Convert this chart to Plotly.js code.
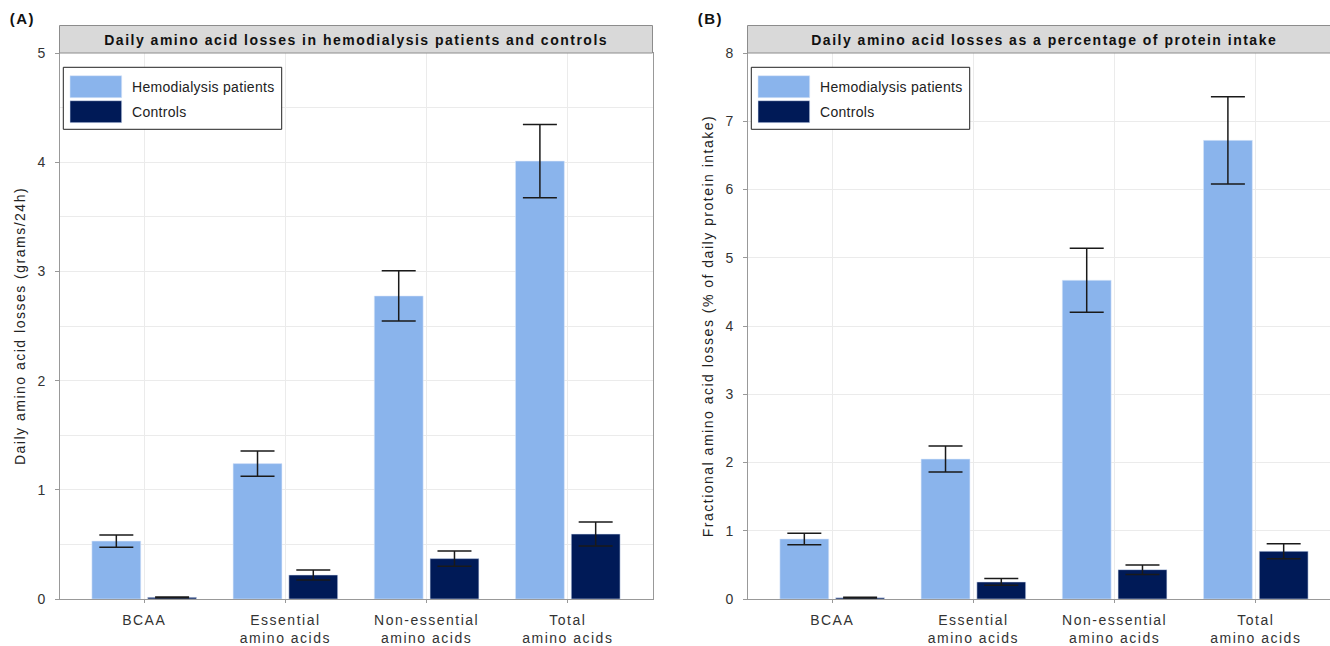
<!DOCTYPE html>
<html>
<head>
<meta charset="utf-8">
<script src="https://cdn.plot.ly/plotly-3.0.1.min.js"></script>
<style>
html,body{margin:0;padding:0;background:#fff;}
#chart{width:1330px;height:646px;}
#chart text{letter-spacing:1.5px;}
</style>
</head>
<body>
<div id="chart"></div>
<script>
// ---- data ----
const categories = ["BCAA", "Essential<br>amino acids", "Non-essential<br>amino acids", "Total<br>amino acids"];
const seriesNames = ["Hemodialysis patients", "Controls"];
const hdGrams = [0.53, 1.24, 2.775, 4.01];
const hdGramsErr = [0.055, 0.115, 0.23, 0.335];
const ctlGrams = [0.015, 0.22, 0.37, 0.595];
const ctlGramsErr = [0.003, 0.045, 0.07, 0.11];
const hdPct = [0.88, 2.05, 4.67, 6.72];
const hdPctErr = [0.085, 0.19, 0.47, 0.64];
const ctlPct = [0.02, 0.25, 0.43, 0.70];
const ctlPctErr = [0.004, 0.05, 0.07, 0.11];
const panelTitles = ["Daily amino acid losses in hemodialysis patients and controls", "Daily amino acid losses as a percentage of protein intake"];
const panelLabels = ["(A)", "(B)"];
const yTitles = ["Daily amino acid losses (grams/24h)", "Fractional amino acid losses (% of daily protein intake)"];

// ---- style ----
const colors = ["#8AB4EC", "#001A57"];
const FONT = "Liberation Sans, Arial, sans-serif";
const W = 1330, H = 646;
const ML = 59, MR = 0, MT = 53, MB = 47;
const PW = W - ML - MR, PH = H - MT - MB;
const px = x => (x - ML) / PW;
const py = y => (H - MB - y) / PH;
const panelA = [59.5, 652.5];
const panelB = [747.5, 1340.5];

function bar(name, x, y, err, color, xa, ya) {
  return {
    type: "bar", name: name, x: x, y: y, xaxis: xa, yaxis: ya, showlegend: false,
    marker: {color: color, line: {color: "rgba(220,232,250,0.8)", width: 0.7}},
    error_y: {type: "data", array: err, visible: true, color: "#1a1a1a", thickness: 1.5, width: 17}
  };
}

const traces = [
  bar(seriesNames[0], categories, hdGrams, hdGramsErr, colors[0], "x", "y"),
  bar(seriesNames[1], categories, ctlGrams, ctlGramsErr, colors[1], "x", "y"),
  bar(seriesNames[0], categories, hdPct, hdPctErr, colors[0], "x2", "y2"),
  bar(seriesNames[1], categories, ctlPct, ctlPctErr, colors[1], "x2", "y2")
];

const shapes = [];
const annotations = [];
[panelA, panelB].forEach((p, i) => {
  // header strip
  shapes.push({type: "rect", xref: "paper", yref: "paper", x0: px(p[0]), x1: px(p[1]), y0: py(53), y1: py(25.5),
    fillcolor: "#D9D9D9", line: {color: "#8c8c8c", width: 1}, layer: "above"});
  annotations.push({xref: "paper", yref: "paper", x: px((p[0] + p[1]) / 2), y: py(39.5), text: "<b>" + panelTitles[i] + "</b>",
    showarrow: false, xanchor: "center", yanchor: "middle", font: {family: FONT, size: 14, color: "#111"}});
  annotations.push({xref: "paper", yref: "paper", x: px(p[0] - 50), y: py(18), text: "<b>" + panelLabels[i] + "</b>",
    showarrow: false, xanchor: "left", yanchor: "middle", font: {family: FONT, size: 15, color: "#111"}});
  // legend box
  const o = p[0] - 59.5;
  shapes.push({type: "rect", xref: "paper", yref: "paper", x0: px(o + 63.3), x1: px(o + 281.7), y0: py(129.3), y1: py(67.3),
    fillcolor: "#fff", line: {color: "#222", width: 1}, layer: "above"});
  [[75.7, 97.7], [100.7, 122.7]].forEach((yy, k) => {
    shapes.push({type: "rect", xref: "paper", yref: "paper", x0: px(o + 70), x1: px(o + 121.7), y0: py(yy[1]), y1: py(yy[0]),
      fillcolor: colors[k], line: {color: "rgba(220,232,250,0.8)", width: 0.7}, layer: "above"});
    annotations.push({xref: "paper", yref: "paper", x: px(o + 130), y: py((yy[0] + yy[1]) / 2),
      text: '<span style="letter-spacing:0.3px">' + seriesNames[k] + '</span>',
      showarrow: false, xanchor: "left", yanchor: "middle", font: {family: FONT, size: 14, color: "#222"}});
  });
});

function xaxis(domain, range, anchor) {
  return {domain: domain, range: range, anchor: anchor, type: "category", showgrid: true, gridcolor: "#EBEBEB", gridwidth: 1,
    showline: true, linecolor: "#999", linewidth: 1, mirror: true, ticks: "outside", ticklen: 3, tickcolor: "#999",
    ticklabelstandoff: 5,
    tickfont: {family: FONT, size: 14, color: "#333"}, zeroline: false, fixedrange: true};
}
function yaxis(range, dtick, minor, title, anchor) {
  const a = {range: range, dtick: dtick, anchor: anchor, showgrid: true, gridcolor: "#EBEBEB", gridwidth: 1,
    showline: true, linecolor: "#999", linewidth: 1, mirror: true, ticks: "outside", ticklen: 4, tickcolor: "#999",
    ticklabelstandoff: 5,
    tickfont: {family: FONT, size: 14, color: "#333"}, zeroline: false,
    title: {text: title, font: {family: FONT, size: 14, color: "#222"}, standoff: 10}};
  if (minor) a.minor = {dtick: minor, showgrid: true, gridcolor: "#EBEBEB", ticklen: 0};
  return a;
}

const layout = {
  width: W, height: H,
  margin: {l: ML, r: MR, t: MT, b: MB},
  paper_bgcolor: "#fff", plot_bgcolor: "#fff",
  barmode: "group", bargap: 0.21, bargroupgap: 0.124,
  showlegend: false,
  font: {family: FONT},
  xaxis: xaxis([px(panelA[0]), px(panelA[1])], [-0.6, 3.6], "y"),
  yaxis: yaxis([0, 5], 1, 0.5, yTitles[0], "x"),
  xaxis2: xaxis([px(panelB[0]), 1], [-0.6, -0.6 + (W - panelB[0]) / ((panelA[1] - panelA[0]) / 4.2)], "y2"),
  yaxis2: yaxis([0, 8], 1, null, yTitles[1], "x2"),
  shapes: shapes,
  annotations: annotations
};

Plotly.newPlot("chart", traces, layout, {displayModeBar: false, staticPlot: true});
</script>
</body>
</html>
